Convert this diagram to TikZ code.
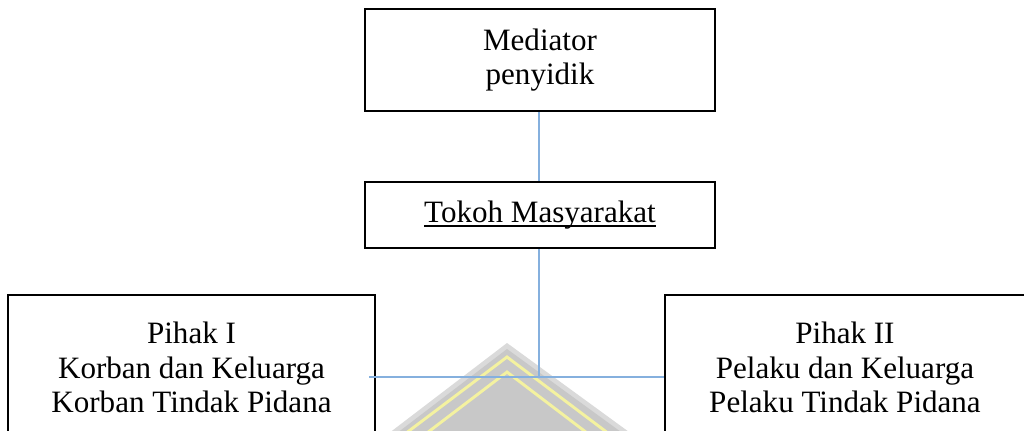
\documentclass[tikz,border=0pt]{standalone}
\usepackage{fontspec}
\setmainfont{Liberation Serif}
\usetikzlibrary{calc}
\definecolor{linkblue}{RGB}{133,176,222}
\definecolor{wmgray}{RGB}{200,200,200}
\definecolor{wmlight}{RGB}{218,218,218}
\definecolor{wmyellow}{RGB}{244,242,160}
\newcommand{\thickul}[1]{\setbox0=\hbox{#1}\rlap{\rule[-3.3pt]{\wd0}{1.1pt}}\box0}
\tikzset{
  box/.style={draw=black, line width=1.5pt, fill=white, align=center, inner sep=0pt,
    font=\fontsize{23.3pt}{26pt}\selectfont},
  link/.style={draw=linkblue, line width=0.9pt},
}
\begin{document}
\begin{tikzpicture}[x=0.75pt,y=-0.75pt]
\clip (0,0) rectangle (1024,430);
\fill[white] (0,0) rectangle (1024,430);
% watermark
\fill[wmlight] (507,343) -- (380,440) -- (640,440) -- cycle;
\fill[wmgray] (507,349) -- (388,440) -- (632,440) -- cycle;
\draw[wmyellow, line width=2.2pt, line join=miter] (381,452) -- (507,357) -- (633,452);
\draw[wmyellow, line width=2.2pt, line join=miter] (398,455) -- (507,372) -- (616,455);
% boxes
\node[box, minimum width=350*0.75pt, minimum height=102*0.75pt] (top) at (540,60) {Mediator\\penyidik};
\node[box, minimum width=350*0.75pt, minimum height=66*0.75pt] (mid) at (540,215) {\thickul{Tokoh Masyarakat}};
\node[box, minimum width=367*0.75pt, minimum height=145*0.75pt] (left) at (191.5,367.5) {Pihak I\\Korban dan Keluarga\\Korban Tindak Pidana};
\node[box, minimum width=360*0.75pt, minimum height=145*0.75pt] (right) at (845,367.5) {Pihak II\\Pelaku dan Keluarga\\Pelaku Tindak Pidana};
% connectors
\coordinate (j) at (539,377);
\draw[link] (top.south -| j) -- (mid.north -| j);
\draw[link] (mid.south -| j) -- (j);
\draw[link] (left.east |- j) ++(-7,0) -- (right.west |- j);
\end{tikzpicture}
\end{document}
